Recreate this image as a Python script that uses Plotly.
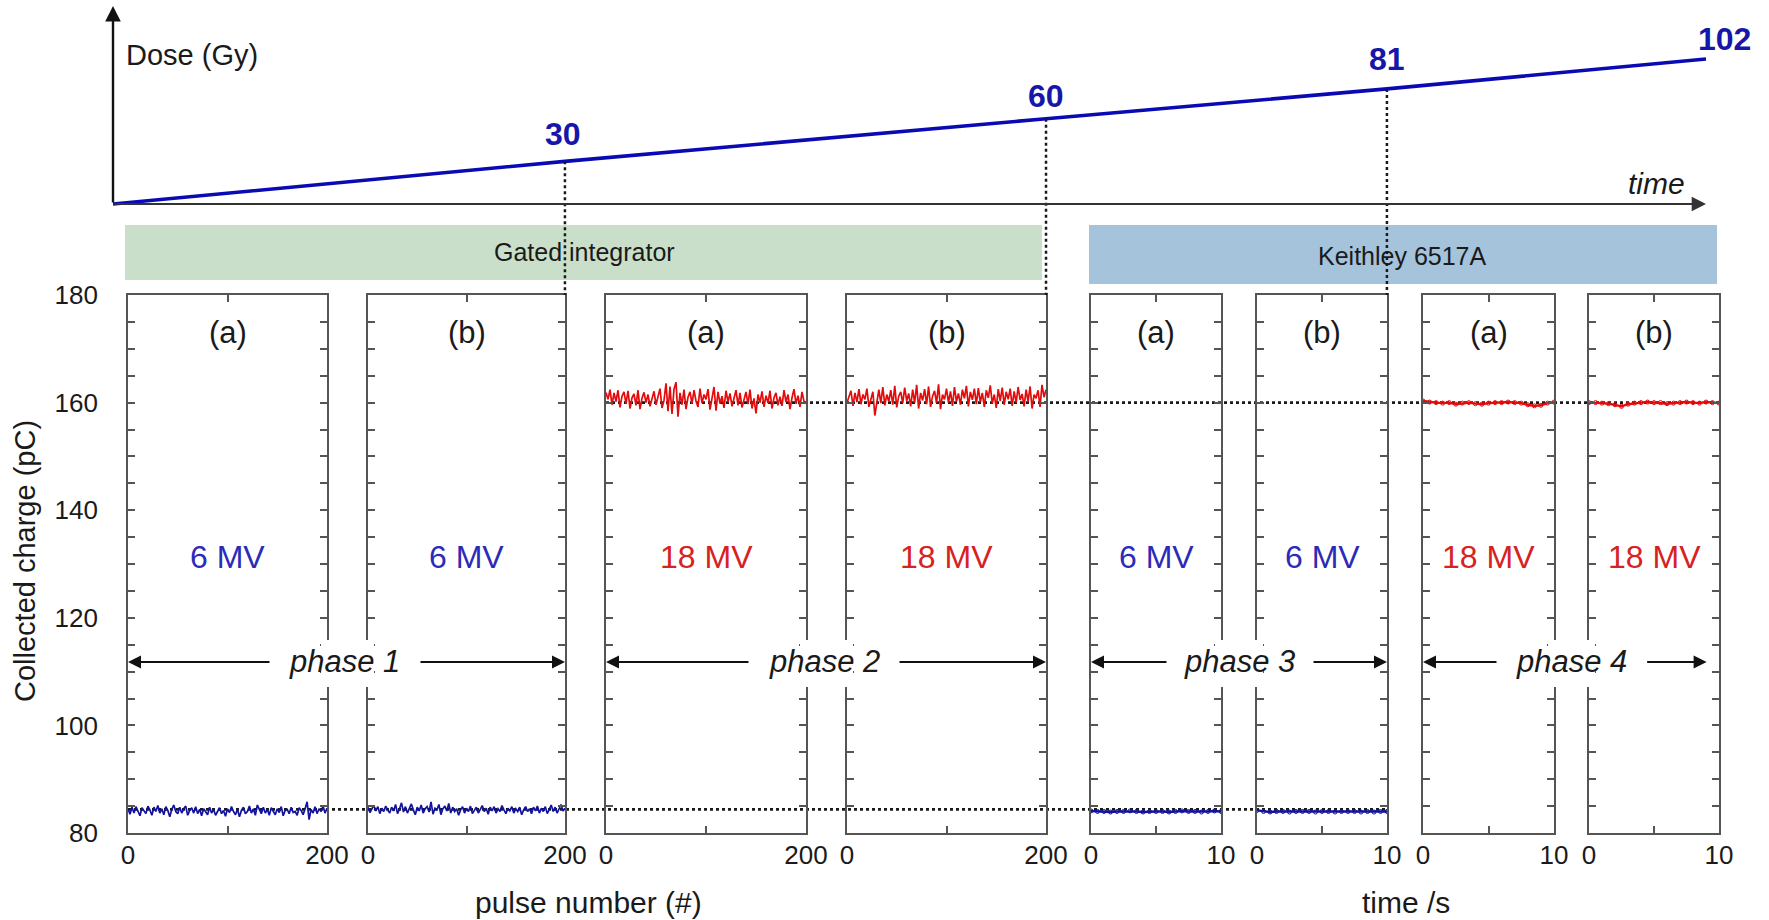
import plotly.graph_objects as go

W, H = 1769, 920
FONT = "Liberation Sans, Arial, Helvetica, sans-serif"

# ---------------- data ----------------
# dose accumulation (top schematic): relative irradiation time (% of total) vs dose
dose_time = [0, 28.37, 58.57, 79.97, 100.0]
dose_gy = [0, 30, 60, 81, 102]
dose_labels = ["", "30", "60", "81", "102"]

# gated integrator: pulse number
pulse_gi = list(range(0, 201, 2))
gi_6mv_a = [84.5, 83.5, 84.8, 83.7, 84.9, 84.0, 83.2, 84.7, 84.2, 83.6,
            85.0, 84.3, 83.3, 84.8, 84.0, 85.1, 83.7, 84.5, 83.4, 84.9,
            84.2, 83.0, 84.4, 85.2, 84.0, 83.6, 84.8, 83.7, 84.5, 85.0,
            83.3, 84.2, 84.7, 83.7, 84.9, 83.6, 84.4, 83.2, 84.5, 84.0,
            83.4, 84.8, 83.7, 84.4, 83.3, 84.0, 84.7, 83.6, 84.2, 83.1,
            84.5, 83.8, 84.9, 84.0, 83.4, 84.4, 83.0, 84.2, 84.8, 83.6,
            84.0, 85.0, 83.7, 84.5, 83.3, 85.2, 84.2, 83.6, 84.8, 83.7,
            84.4, 83.3, 84.7, 84.0, 83.4, 84.5, 83.8, 84.9, 83.2, 84.2,
            84.4, 83.6, 84.8, 83.8, 84.0, 83.3, 84.7, 84.2, 83.4, 84.5,
            85.8, 82.5, 84.4, 83.7, 84.9, 83.6, 84.5, 84.0, 85.0, 83.7, 84.6]
gi_6mv_b = [84.8, 83.8, 84.5, 85.1, 84.1, 84.9, 83.6, 84.6, 84.0, 85.0,
            84.3, 83.7, 84.8, 84.1, 85.3, 83.6, 84.5, 85.6, 83.9, 84.9,
            83.7, 84.6, 85.4, 84.3, 83.4, 84.8, 84.1, 85.2, 83.7, 84.5,
            84.9, 83.9, 85.8, 83.5, 84.6, 84.3, 85.3, 83.4, 84.5, 85.0,
            84.1, 85.5, 83.7, 84.8, 84.0, 84.5, 83.3, 84.3, 84.9, 83.7,
            84.6, 84.0, 85.0, 83.6, 84.3, 84.8, 83.7, 84.5, 85.1, 84.0,
            84.6, 83.5, 84.8, 84.1, 84.9, 83.7, 84.5, 84.0, 85.1, 84.3,
            83.6, 84.6, 84.1, 84.9, 83.7, 84.5, 84.0, 84.8, 83.4, 84.3,
            84.9, 84.0, 84.5, 83.6, 84.8, 84.1, 85.0, 83.7, 84.6, 84.0,
            84.9, 83.6, 84.3, 85.2, 84.0, 84.8, 83.7, 84.5, 85.3, 84.1, 84.6]
gi_18mv_a = [161.9, 160.6, 162.4, 159.6, 161.8, 160.2, 162.3, 159.1, 161.2, 162.0,
             159.8, 162.2, 158.9, 160.9, 161.6, 159.5, 162.3, 158.8, 160.8, 161.9,
             160.0, 161.5, 159.3, 160.7, 162.1, 159.6, 161.2, 162.6, 159.0, 160.4,
             163.6, 158.4, 163.0, 157.9, 162.5, 163.8, 157.4, 161.8, 159.6, 162.4,
             158.8, 161.0, 162.0, 159.8, 162.3, 160.3, 159.2, 162.6, 159.9, 161.5,
             160.6, 162.5, 158.7, 161.2, 162.9, 158.5, 162.0, 159.8, 161.2, 159.0,
             162.2, 160.1, 161.7, 159.3, 160.9, 162.3, 159.5, 161.8, 159.1, 160.4,
             162.0, 159.7, 162.4, 158.9, 160.8, 158.0, 161.5, 160.0, 162.1, 159.2,
             161.3, 159.9, 162.2, 158.9, 160.9, 161.8, 159.5, 161.1, 159.4, 162.3,
             160.1, 161.5, 158.8, 160.9, 162.5, 159.8, 161.3, 159.2, 162.0, 160.2, 159.8]
gi_18mv_b = [160.0, 161.3, 162.2, 159.4, 161.8, 160.1, 162.5, 159.7, 161.5, 160.6,
             162.6, 159.2, 160.9, 162.0, 157.6, 160.4, 162.4, 159.9, 162.9, 159.5,
             161.5, 160.2, 162.3, 159.6, 163.1, 159.1, 161.2, 162.0, 159.9, 162.8,
             160.3, 161.7, 159.3, 162.4, 160.0, 163.3, 158.9, 161.8, 160.4, 162.5,
             159.7, 163.0, 159.2, 161.2, 162.2, 159.9, 163.4, 158.8, 161.5, 160.6,
             162.6, 160.0, 162.1, 159.4, 162.9, 160.2, 161.7, 159.6, 162.4, 160.8,
             163.1, 159.3, 162.0, 160.5, 162.6, 159.7, 162.7, 160.1, 161.8, 159.2,
             162.3, 160.9, 163.2, 159.8, 161.5, 159.0, 162.5, 160.3, 162.8, 159.6,
             162.0, 160.6, 162.6, 159.4, 162.1, 160.0, 162.9, 160.5, 161.6, 159.3,
             162.4, 160.2, 163.0, 158.9, 161.5, 160.8, 162.3, 159.2, 163.3, 161.0, 162.4]

# Keithley 6517A: time /s
time_k = [0, 0.5, 1, 1.5, 2, 2.5, 3, 3.5, 4, 4.5, 5, 5.5, 6, 6.5, 7, 7.5, 8, 8.5, 9, 9.5, 10]
k_6mv_a = [84.1, 84.0, 84.0, 83.9, 84.0, 84.0, 84.1, 84.0, 83.9, 84.0, 84.0,
           84.0, 83.9, 84.0, 84.1, 84.0, 84.0, 83.9, 84.0, 84.1, 84.0]
k_6mv_b = [84.2, 84.0, 83.9, 84.0, 84.0, 83.9, 84.0, 84.0, 84.0, 83.9, 84.0,
           84.0, 83.9, 84.0, 84.0, 84.0, 83.9, 84.0, 83.9, 84.0, 84.0]
k_18mv_a = [160.3, 160.1, 160.0, 159.9, 160.0, 159.7, 159.9, 160.0, 159.8, 159.7, 159.9,
            160.0, 160.0, 160.1, 160.0, 159.9, 159.6, 159.4, 159.5, 159.9, 160.1]
k_18mv_b = [160.0, 160.0, 159.9, 159.8, 159.6, 159.3, 159.7, 159.9, 160.0, 160.1, 160.0,
            160.0, 159.8, 159.9, 160.0, 160.1, 160.0, 159.9, 160.1, 160.0, 159.9]

panel_tags = ["(a)", "(b)", "(a)", "(b)", "(a)", "(b)", "(a)", "(b)"]
energies = ["6 MV", "6 MV", "18 MV", "18 MV", "6 MV", "6 MV", "18 MV", "18 MV"]
phases = ["phase 1", "phase 2", "phase 3", "phase 4"]
y_tick_labels = [80, 100, 120, 140, 160, 180]
ref_6mv = 84.4
ref_18mv = 160.0

series_x = [pulse_gi] * 4 + [time_k] * 4
series_y = [gi_6mv_a, gi_6mv_b, gi_18mv_a, gi_18mv_b, k_6mv_a, k_6mv_b, k_18mv_a, k_18mv_b]

# ---------------- layout geometry (pixels) ----------------
panel_px = [(128, 327), (368, 565), (606, 806), (847, 1046),
            (1091, 1221), (1257, 1387), (1423, 1554), (1589, 1719)]
panel_top, panel_bot = 295, 833

def px(x):
    return x / W

def py(y):
    return 1 - y / H

BLUE_D = "#12129e"
RED_D = "#e30b0b"
BLUE_T = "#2b2bb8"
RED_T = "#d62222"
LINE = "#555555"
DOT = "#1a1a1a"

fig = go.Figure()

# ---- data traces ----
for i in range(8):
    sfx = "" if i == 0 else str(i + 1)
    is6 = energies[i].startswith("6")
    col = BLUE_D if is6 else RED_D
    keith = i >= 4
    fig.add_trace(go.Scatter(
        x=series_x[i], y=series_y[i], xaxis="x" + sfx, yaxis="y" + sfx,
        mode="lines+markers" if keith else "lines",
        line=dict(color=col, width=2.4 if keith else 1.7),
        marker=dict(size=4, color=col, symbol="circle-open", line=dict(width=1, color=col)),
        showlegend=False, hoverinfo="x+y"))

# ---- top dose schematic (axis 9) ----
fig.add_trace(go.Scatter(x=dose_time, y=dose_gy, xaxis="x9", yaxis="y9", mode="lines",
                         line=dict(color="#0a0ab4", width=3.6), showlegend=False))
y9_min = -64.0
for t, d in zip(dose_time[1:4], dose_gy[1:4]):
    fig.add_trace(go.Scatter(x=[t, t], y=[d, y9_min], xaxis="x9", yaxis="y9", mode="lines",
                             line=dict(color=DOT, width=2.5, dash="dot"), showlegend=False))

layout = dict(
    width=W, height=H, autosize=False,
    margin=dict(l=0, r=0, t=0, b=0, pad=0, autoexpand=False),
    paper_bgcolor="white", plot_bgcolor="rgba(0,0,0,0)",
    font=dict(family=FONT, color="#1a1a1a"),
    showlegend=False,
)

ydom = [py(panel_bot), py(panel_top)]
yvals = list(range(80, 181, 5))
ytext = [str(v) if v in y_tick_labels else "" for v in yvals]
for i in range(8):
    sfx = "" if i == 0 else str(i + 1)
    l, r = panel_px[i]
    if i < 4:
        xr, xv, xt = [0, 200], [0, 100, 200], ["0", "", "200"]
    else:
        xr, xv, xt = [0, 10], [0, 5, 10], ["0", "", "10"]
    layout["xaxis" + sfx] = dict(
        domain=[px(l), px(r)], range=xr, anchor="y" + sfx, automargin=False,
        tickmode="array", tickvals=xv, ticktext=xt,
        ticks="inside", ticklen=7, tickwidth=1.5, tickcolor=LINE,
        showline=True, linecolor=LINE, linewidth=1.6, mirror="ticks",
        showgrid=False, zeroline=False,
        tickfont=dict(size=26, color="#1a1a1a", family=FONT), ticklabelstandoff=-2)
    layout["yaxis" + sfx] = dict(
        domain=ydom, range=[80, 180], anchor="x" + sfx, automargin=False,
        tickmode="array", tickvals=yvals, ticktext=ytext,
        ticks="inside", ticklen=7, tickwidth=1.5, tickcolor=LINE,
        showline=True, linecolor=LINE, linewidth=1.6, mirror="ticks",
        showgrid=False, zeroline=False, showticklabels=(i == 0),
        tickfont=dict(size=26, color="#1a1a1a", family=FONT), ticklabelstandoff=23)

layout["xaxis9"] = dict(domain=[px(113), px(1706)], range=[0, 100], anchor="y9", automargin=False,
                        showline=False, showgrid=False, zeroline=False,
                        showticklabels=False, ticks="")
layout["yaxis9"] = dict(domain=[py(panel_top), py(6)], range=[y9_min, 139.3], anchor="x9",
                        automargin=False, showline=False, showgrid=False, zeroline=False,
                        showticklabels=False, ticks="")

shapes = []
# instrument bands
shapes.append(dict(type="rect", xref="paper", yref="paper", x0=px(125), x1=px(1042),
                   y0=py(280), y1=py(225), fillcolor="#c9dfca", line=dict(width=0), layer="below"))
shapes.append(dict(type="rect", xref="paper", yref="paper", x0=px(1089), x1=px(1717),
                   y0=py(284), y1=py(225), fillcolor="#a6c3dc", line=dict(width=0), layer="below"))
# reference levels
shapes.append(dict(type="line", xref="paper", yref="y", x0=px(panel_px[2][0]), x1=px(panel_px[7][1]),
                   y0=ref_18mv, y1=ref_18mv, line=dict(color=DOT, width=2.6, dash="dot"), layer="below"))
shapes.append(dict(type="line", xref="paper", yref="y", x0=px(panel_px[0][0]), x1=px(panel_px[5][1]),
                   y0=ref_6mv, y1=ref_6mv, line=dict(color=DOT, width=2.6, dash="dot"), layer="below"))
# gaps in the inner frame borders behind the phase labels
for gx0, gx1 in [(321, 374), (800, 853), (1215, 1263), (1548, 1595)]:
    shapes.append(dict(type="rect", xref="paper", yref="paper", x0=px(gx0), x1=px(gx1),
                       y0=py(687), y1=py(640), fillcolor="white", line=dict(width=0), layer="above"))
layout["shapes"] = shapes

ann = []

def txt(x, y, text, size, color="#1a1a1a", xref="paper", yref="paper", **kw):
    d = dict(x=x, y=y, xref=xref, yref=yref, text=text, showarrow=False,
             xanchor="center", yanchor="middle", font=dict(size=size, color=color, family=FONT))
    d.update(kw)
    ann.append(d)

# top schematic axes arrows
ann.append(dict(x=100, y=0, ax=0, ay=0, xref="x9", yref="y9", axref="x9", ayref="y9",
                showarrow=True, arrowhead=2, arrowsize=1.3, arrowwidth=2.2, arrowcolor="#333333",
                text="", standoff=0))
ann.append(dict(x=0, y=139.3, ax=0, ay=0, xref="x9", yref="y9", axref="x9", ayref="y9",
                showarrow=True, arrowhead=2, arrowsize=1.3, arrowwidth=2.4, arrowcolor="#111111",
                text="", standoff=0))
txt(px(124), py(55), "Dose (Gy)", 29, xanchor="left")
txt(px(1687), py(183), "<i>time</i>", 30, xanchor="right")
label_shift = [(0, 0), (-2, 27), (0, 23), (0, 30), (18, 20)]
for k in range(1, 5):
    txt(dose_time[k], dose_gy[k], "<b>" + dose_labels[k] + "</b>", 32, color="#1616aa",
        xref="x9", yref="y9", xshift=label_shift[k][0], yshift=label_shift[k][1])
# band labels
txt(px(584), py(252), "Gated integrator", 25)
txt(px(1402), py(256), "Keithley 6517A", 25)
# panel labels
for i in range(8):
    sfx = "" if i == 0 else str(i + 1)
    xc = 100 if i < 4 else 5
    txt(xc, 173, panel_tags[i], 31, xref="x" + sfx, yref="y" + sfx)
    txt(xc, 131.3, energies[i], 32, color=BLUE_T if energies[i].startswith("6") else RED_T,
        xref="x" + sfx, yref="y" + sfx)
# phase arrows
y_ph = 111.8
arrow_specs = [
    ("x", 0, 143), ("x2", 200, -146),
    ("x3", 0, 144), ("x4", 200, -148),
    ("x5", 0, 77), ("x6", 10, -75),
    ("x7", 0, 75), ("x8", 9.05, -61),
]
for xr, xv, axp in arrow_specs:
    yr = "y" + xr[1:]
    ann.append(dict(x=xv, y=y_ph, xref=xr, yref=yr, ax=axp, ay=0, showarrow=True,
                    arrowhead=2, arrowsize=1.3, arrowwidth=2, arrowcolor="#111111",
                    text="", standoff=0))
for name, xc in zip(phases, [344, 824, 1239, 1571]):
    txt(px(xc), y_ph, "<i>" + name + "</i>", 31, yref="y")
# axis titles
txt(px(25), py(561), "Collected charge (pC)", 29, textangle=-90)
txt(px(588), py(902), "pulse number (#)", 30)
txt(px(1406), py(902), "time /s", 30)
layout["annotations"] = ann

fig.update_layout(**layout)
fig.write_html("out.html")
